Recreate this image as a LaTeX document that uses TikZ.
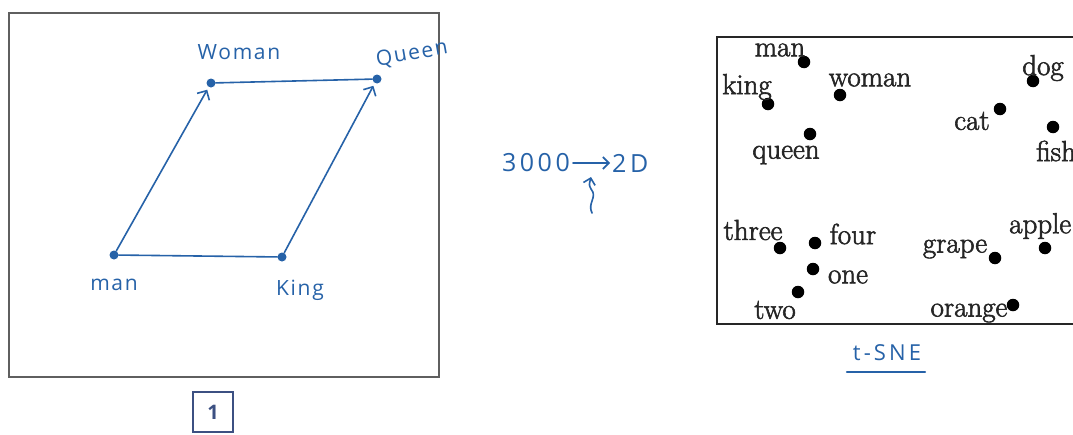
\documentclass[tikz,border=0pt]{standalone}
\usepackage{fontspec}
\newfontfamily\hand[LetterSpace=8]{Open Sans}
\newfontfamily\handw[LetterSpace=14]{Open Sans}
\newfontfamily\cmb[FakeBold=2]{Latin Modern Roman}
\usetikzlibrary{arrows.meta}
\definecolor{pen}{RGB}{38,98,168}
\definecolor{frame}{RGB}{95,95,95}
\definecolor{boxone}{RGB}{60,80,130}
\begin{document}
\begin{tikzpicture}[x=1pt,y=-1pt,
  pdot/.style={circle,fill=pen,inner sep=0pt,minimum size=9pt},
  bdot/.style={circle,fill=black,inner sep=0pt,minimum size=12.5pt},
  word/.style={font=\cmb\fontsize{29}{31}\selectfont,inner sep=0pt,text=black!85},
  hw/.style={font=\hand\fontsize{21}{23}\selectfont,text=pen,inner sep=0pt},
  penline/.style={draw=pen,line width=1.6pt,line cap=round},
  barb/.style={-{Straight Barb[length=7pt,width=14pt]}},
  ]
\useasboundingbox (0,0) rectangle (1073,434);
\clip (0,0) rectangle (1073,434);
\fill[white] (0,0) rectangle (1073,434);

% ---------- left panel ----------
\draw[frame,line width=2pt] (9,13) rectangle (439,377);
\node[pdot] (man)   at (114,255) {};
\node[pdot] (king)  at (282,257) {};
\node[pdot] (woman) at (211,83) {};
\node[pdot] (queen) at (377,79) {};
\draw[penline,barb,shorten >=3pt] (man) -- (woman);
\draw[penline,barb,shorten >=3pt] (king) -- (queen);
\draw[penline] (woman) -- (queen);
\draw[penline] (man) -- (king);
\node[hw] (lwoman) at (239,52) {Woman};
\node[hw,rotate=10] (lqueen) at (412,54) {Queen};
\node[hw] (lman) at (114,285) {man};
\node[hw] (lking) at (300,290) {King};
\node[draw=boxone,line width=1.4pt,minimum width=40pt,minimum height=40pt,inner sep=0pt,
  text=boxone,font=\hand\bfseries\fontsize{20}{22}\selectfont] (one) at (213,412) {1};

% ---------- middle ----------
\node[font=\handw\fontsize{25}{27}\selectfont,text=pen,inner sep=0pt,anchor=east] (src) at (570,163) {3000};
\node[font=\handw\fontsize{25}{27}\selectfont,text=pen,inner sep=0pt,anchor=west] (dst) at (612,163) {2D};
\draw[penline,-{Straight Barb[length=6pt,width=12pt]}] ([xshift=3pt]src.east) -- ([xshift=-2pt]dst.west);
\coordinate (sq) at (592,213);
\draw[penline,-{Straight Barb[length=6pt,width=12pt]}] (sq) .. controls (587,203) and (598,197) .. (591,189) .. controls (589,185) .. (591,177);

% ---------- right panel ----------
\draw[black!85,line width=2.2pt] (717,37) rectangle (1100,324);
\node[bdot] (dman)    at (804,62) {};
\node[bdot] (dking)   at (768,104) {};
\node[bdot] (dwoman)  at (840,95) {};
\node[bdot] (dqueen)  at (810,134) {};
\node[bdot] (ddog)    at (1033,81) {};
\node[bdot] (dcat)    at (1000,109) {};
\node[bdot] (dfish)   at (1053,127) {};
\node[bdot] (dthree)  at (780,248) {};
\node[bdot] (dfour)   at (815,243) {};
\node[bdot] (done)    at (813,269) {};
\node[bdot] (dtwo)    at (798,292) {};
\node[bdot] (dgrape)  at (995,258) {};
\node[bdot] (dapple)  at (1045,248) {};
\node[bdot] (dorange) at (1013,305) {};

\node[word] (tman)    at (780,50)  {man};
\node[word] (tking)   at (747,87)  {king};
\node[word] (twoman)  at (870,80)  {woman};
\node[word] (tqueen)  at (786,155) {queen};
\node[word] (tdog)    at (1043,68) {dog};
\node[word] (tcat)    at (972,121) {cat};
\node[word,anchor=west] (tfish) at (1036,151) {fish};
\node[word] (tthree)  at (753,230) {three};
\node[word] (tfour)   at (853,234) {four};
\node[word] (tone)    at (848,277) {one};
\node[word] (ttwo)    at (775,310) {two};
\node[word] (tgrape)  at (955,249) {grape};
\node[word,anchor=west] (tapple) at (1009,226) {apple};
\node[word] (torange) at (969,313) {orange};

\node[font=\handw\fontsize{22}{24}\selectfont,text=pen,inner sep=0pt] (tsne) at (887,353) {t-SNE};
\draw[penline] ([xshift=-6pt,yshift=-11pt]tsne.south west) -- ([xshift=4pt,yshift=-11pt]tsne.south east);
\end{tikzpicture}
\end{document}
